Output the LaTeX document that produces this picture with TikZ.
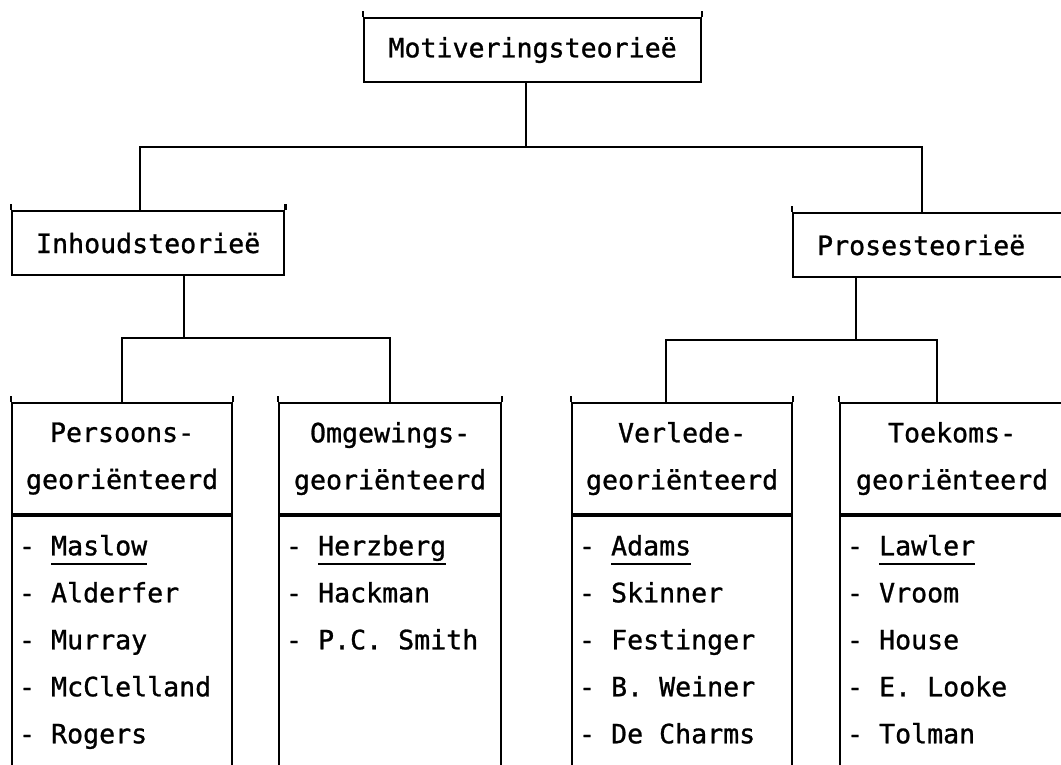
\documentclass[tikz,border=0pt]{standalone}
\usepackage{fontspec}
\setmainfont{DejaVu Sans Mono}[FakeBold=1]
\usetikzlibrary{positioning}

% underlined first name of each list
\newcommand\leadname[1]{\setbox0\hbox{#1}\rlap{\rule[-10pt]{\wd0}{1.8pt}}\box0}
% typewriter size, one full cell for every space
\newcommand\typeset{\fontsize{26.6}{47}\selectfont
    \fontdimen2\font=16pt\fontdimen3\font=0pt\fontdimen4\font=0pt\frenchspacing}

\begin{document}
\begin{tikzpicture}[
    x=1pt, y=1pt,
    line width=2.2pt,
    font=\typeset,
    node distance=0pt,
    ears/.style={
        append after command={
            (\tikzlastnode.north west) edge ([yshift=6pt]\tikzlastnode.north west)
            (\tikzlastnode.north east) edge ([yshift=6pt]\tikzlastnode.north east)
        }
    },
    theory/.style={
        rectangle,
        draw,
        align=flush left,
        inner xsep=24pt,
        inner ysep=0pt,
        minimum height=64pt,
        anchor=north west,
        ears
    },
    head/.style={
        rectangle,
        draw,
        align=center,
        inner sep=0pt,
        minimum height=111pt,
        minimum width=#1,
        anchor=north west,
        ears
    },
    namelist/.style={
        rectangle,
        draw,
        align=flush left,
        text width=#1,
        inner xsep=7pt,
        inner ysep=19pt,
        text height=20pt,
        text depth=240pt
    }
]

    \useasboundingbox (0,0) rectangle (1061,765);
    \clip (0,0) rectangle (1061,765);

    % --- Top ---
    \node[theory, minimum width=337pt] (top) at (363,748) {Motiveringsteorieë};
    \coordinate[below=64pt of top.south] (bus1);

    % --- Second level ---
    \node[theory] (inh) at (11,555) {Inhoudsteorieë};
    \node[theory, text width=232pt] (pros) at (792,553) {Prosesteorieë};

    \draw ([xshift=-7pt]top.south) -- ([xshift=-7pt]top.south |- bus1);
    \draw ([xshift=-8pt]inh.north) |- (bus1) -| ([xshift=-11pt]pros.north);

    % --- Inhoudsteorieë branch ---
    \node[head=220pt] (pers) at (11,363) {Persoons-\\georiënteerd};
    \node[head=222pt] (omg) at (278,363) {Omgewings-\\georiënteerd};
    \node[namelist=206pt, below=of pers] (persl) {- \leadname{Maslow}\\- Alderfer\\- Murray\\- McClelland\\- Rogers};
    \node[namelist=208pt, below=of omg] (omgl) {- \leadname{Herzberg}\\- Hackman\\- P.C. Smith};

    \coordinate[below=62pt of inh.south] (bus2l);
    \draw ([xshift=36pt]inh.south) -- ([xshift=36pt]inh.south |- bus2l);
    \draw (pers.north) |- (bus2l) -| (omg.north);

    % --- Prosesteorieë branch ---
    \node[head=220pt] (verl) at (571,363) {Verlede-\\georiënteerd};
    \node[head=224pt] (toek) at (839,363) {Toekoms-\\georiënteerd};
    \node[namelist=206pt, below=of verl] (verll) {- \leadname{Adams}\\- Skinner\\- Festinger\\- B. Weiner\\- De Charms};
    \node[namelist=210pt, below=of toek] (toekl) {- \leadname{Lawler}\\- Vroom\\- House\\- E. Looke\\- Tolman};

    \coordinate[below=62pt of pros.south] (bus2r);
    \draw ([xshift=-77pt]pros.south) -- ([xshift=-77pt]pros.south |- bus2r);
    \draw ([xshift=-16pt]verl.north) |- (bus2r) -| ([xshift=-15pt]toek.north);

\end{tikzpicture}
\end{document}
